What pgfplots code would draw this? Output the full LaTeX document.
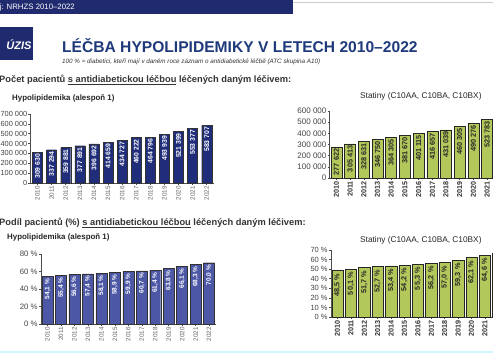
\documentclass[border=0pt]{standalone}
\usepackage{fontspec}
\setmainfont{Liberation Sans}
\usepackage{pgfplots}
\pgfplotsset{compat=1.18}
\definecolor{navy}{HTML}{1F2B6E}
\definecolor{titleblue}{HTML}{1E3A7B}
\definecolor{barblue}{HTML}{1F2D7A}
\definecolor{barblue2}{HTML}{4C57A6}
\definecolor{bargreen}{HTML}{B2C85B}
\definecolor{txtgrey}{HTML}{333333}
\definecolor{ticktxt}{HTML}{444444}
\pgfplotsset{
  base/.style={scale only axis, ybar, axis x line*=bottom, axis y line*=left,
    tick align=outside, major tick length=2pt, enlargelimits=false,
    xmin=-0.5, xmax=12.5, ymin=0, xtick={0,...,12},
    xticklabels={2010,2011,2012,2013,2014,2015,2016,2017,2018,2019,2020,2021,2022},
    axis line style={black!70, line width=0.5pt}, tick style={black!70, line width=0.5pt},
    /pgf/number format/assume math mode=true,
    scaled y ticks=false,
    clip=false},
  leftx/.style={xticklabel style={rotate=90, anchor=east, font=\fontsize{6.3}{7}\selectfont, text=black!60, inner sep=1pt}},
  rightx/.style={xticklabel style={rotate=90, anchor=east, font=\bfseries\fontsize{7.2}{8}\selectfont, text=black!80, inner sep=1pt}},
  yl/.style={yticklabel style={font=\fontsize{#1}{9}\selectfont, text=ticktxt, inner sep=1pt}},
}
\begin{document}
\begin{tikzpicture}[x=1pt,y=1pt]
\useasboundingbox (0,0) rectangle (493,358);
\clip (0,0) rectangle (493,358);
\fill[white] (0,0) rectangle (493,358);
% header band
\fill[navy] (0,344) rectangle (293,358);
\draw[black!20, line width=0.8pt] (293,355.5) -- (493,355.5);
\node[anchor=east, text=white, font=\fontsize{7.8}{9}\selectfont, inner sep=0pt] at (75,351) {Zdroj: NRHZS 2010--2022};
% logo
\fill[navy] (0,298) rectangle (33,331);
\node[text=white, font=\bfseries\itshape\fontsize{11}{12}\selectfont, inner sep=0pt] at (19,313) {ÚZIS};
% title
\node[anchor=west, text=titleblue, font=\bfseries\fontsize{15.6}{18}\selectfont, inner sep=0pt] at (62,312) {LÉČBA HYPOLIPIDEMIKY V LETECH 2010--2022};
\node[anchor=west, text=txtgrey, font=\itshape\fontsize{6.3}{8}\selectfont, inner sep=0pt] at (62,296) {100 \% = diabetici, kteří mají v daném roce záznam o antidiabetické léčbě (ATC skupina A10)};
% section headings
\node[anchor=west, text=txtgrey, font=\bfseries\fontsize{9.3}{11}\selectfont, inner sep=0pt] at (-1,278) {Počet pacientů \underline{s antidiabetickou léčbou} léčených daným léčivem:};
\node[anchor=west, text=txtgrey, font=\bfseries\fontsize{9.3}{11}\selectfont, inner sep=0pt] at (-1,135) {Podíl pacientů (\%) \underline{s antidiabetickou léčbou} léčených daným léčivem:};
% chart titles
\node[anchor=west, text=black!85, font=\bfseries\fontsize{7.9}{9}\selectfont, inner sep=0pt] at (12,260) {Hypolipidemika (alespoň 1)};
\node[anchor=west, text=black!85, font=\fontsize{8.3}{9}\selectfont, inner sep=0pt] at (360,262) {Statiny (C10AA, C10BA, C10BX)};
\node[anchor=west, text=black!85, font=\bfseries\fontsize{7.9}{9}\selectfont, inner sep=0pt] at (7,121) {Hypolipidemika (alespoň 1)};
\node[anchor=west, text=black!85, font=\fontsize{8.3}{9}\selectfont, inner sep=0pt] at (360,118) {Statiny (C10AA, C10BA, C10BX)};
% bottom line
\draw[blue!15!cyan!20, line width=1.5pt] (0,6) -- (493,6);

% top-left
\begin{axis}[base, leftx, yl=7.4, at={(30.5pt,175pt)}, anchor=south west, width=183.3pt, height=69pt,
  ymax=700000, ytick={0,100000,200000,300000,400000,500000,600000,700000},
  yticklabel={\pgfmathprintnumber[fixed,precision=0,1000 sep={\ }]{\tick}},
  bar width=10pt]
\addplot[fill=barblue, draw=black!80, line width=0.4pt,
  nodes near coords={\pgfmathprintnumber[fixed,precision=0,1000 sep={\ }]{\pgfplotspointmeta}},
  every node near coord/.append style={rotate=90, anchor=east, text=white, font=\bfseries\fontsize{6.8}{7}\selectfont, inner sep=1.5pt}]
coordinates {(0,309630) (1,337294) (2,359881) (3,377891) (4,396692) (5,414659) (6,434727) (7,460222) (8,464796) (9,493939) (10,521399) (11,553377) (12,583707)};
\end{axis}

% top-right
\begin{axis}[base, rightx, yl=8.0, at={(329.6pt,180pt)}, anchor=south west, width=178pt, height=67pt,
  ymax=600000, ytick={0,100000,200000,300000,400000,500000,600000},
  yticklabel={\pgfmathprintnumber[fixed,precision=0,1000 sep={\ }]{\tick}},
  bar width=11pt]
\addplot[fill=bargreen, draw=black!85, line width=0.5pt,
  nodes near coords={\pgfmathprintnumber[fixed,precision=0,1000 sep={\ }]{\pgfplotspointmeta}},
  every node near coord/.append style={rotate=90, anchor=east, text=black!85, font=\bfseries\fontsize{7.3}{8}\selectfont, inner sep=1.5pt}]
coordinates {(0,277622) (1,305413) (2,328631) (3,346750) (4,364305) (5,381670) (6,401115) (7,416657) (8,431039) (9,460305) (10,490276) (11,523783) (12,555000)};
\end{axis}

% bottom-left
\begin{axis}[base, leftx, yl=7.8, at={(40.8pt,34pt)}, anchor=south west, width=175pt, height=70pt,
  ymax=80, ytick={0,20,40,60,80},
  yticklabel={\pgfmathprintnumber{\tick}~\%},
  bar width=11pt]
\addplot[fill=barblue2, draw=black!80, line width=0.4pt,
  nodes near coords={\pgfmathprintnumber[fixed,fixed zerofill,precision=1,use comma]{\pgfplotspointmeta}~\%},
  every node near coord/.append style={rotate=90, anchor=east, text=white, font=\bfseries\fontsize{6.5}{7}\selectfont, inner sep=2pt}]
coordinates {(0,54.1) (1,55.4) (2,56.6) (3,57.4) (4,58.1) (5,58.9) (6,59.9) (7,60.7) (8,61.4) (9,63.8) (10,66.1) (11,68.3) (12,70.0)};
\end{axis}

% bottom-right
\begin{axis}[base, rightx, yl=7.5, at={(330.8pt,41pt)}, anchor=south west, width=174.2pt, height=67pt,
  ymax=70, ytick={0,10,20,30,40,50,60,70},
  yticklabel={\pgfmathprintnumber{\tick}~\%},
  bar width=11.5pt]
\addplot[fill=bargreen, draw=black!85, line width=0.5pt,
  nodes near coords={\pgfmathprintnumber[fixed,fixed zerofill,precision=1,use comma]{\pgfplotspointmeta}~\%},
  every node near coord/.append style={rotate=90, anchor=east, text=black!85, font=\bfseries\fontsize{7.3}{8}\selectfont, inner sep=3pt}]
coordinates {(0,48.5) (1,50.1) (2,51.7) (3,52.7) (4,53.4) (5,54.2) (6,55.3) (7,56.2) (8,57.0) (9,59.3) (10,62.1) (11,64.6) (12,66.3)};
\end{axis}
\end{tikzpicture}
\end{document}
